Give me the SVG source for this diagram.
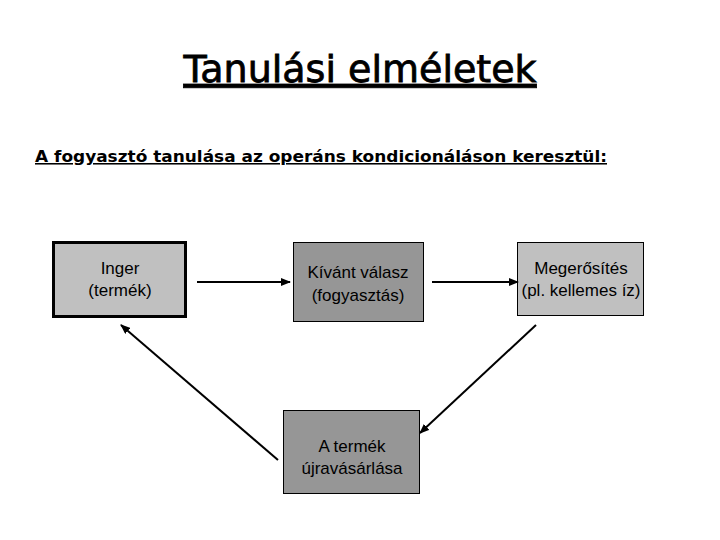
<svg xmlns="http://www.w3.org/2000/svg" width="720" height="540" viewBox="0 0 720 540">
<style>
.t{font-family:"Liberation Sans",Arial,sans-serif;font-size:17px;fill:#000;text-anchor:middle}
.c{stroke:#000;stroke-width:2;fill:none;marker-end:url(#a)}
</style>
<defs><marker id="a" markerWidth="10" markerHeight="8" refX="9" refY="4" orient="auto" markerUnits="userSpaceOnUse"><path d="M0,0L10,4L0,8z" fill="#000"/></marker></defs>
<rect width="720" height="540" fill="#fff"/>
<text x="360" y="82" font-family="'DejaVu Sans',sans-serif" font-size="38" text-anchor="middle" stroke="#000" stroke-width="0.8" text-decoration="underline">Tanulási elméletek</text>
<text x="35" y="162" font-family="'DejaVu Sans',sans-serif" font-size="15.5" font-weight="bold" text-decoration="underline" textLength="572" lengthAdjust="spacingAndGlyphs">A fogyasztó tanulása az operáns kondicionáláson keresztül:</text>
<g id="inger"><rect x="53.5" y="242.5" width="132" height="74" fill="#c0c0c0" stroke="#000" stroke-width="3"/><text class="t" x="120" y="274">Inger</text><text class="t" x="120" y="296">(termék)</text></g>
<g id="valasz"><rect x="293.5" y="242.5" width="130" height="79" fill="#969696" stroke="#000"/><text class="t" x="358" y="278">Kívánt válasz</text><text class="t" x="358" y="301">(fogyasztás)</text></g>
<g id="megerosites"><rect x="517.5" y="242.5" width="126" height="73" fill="#c0c0c0" stroke="#000"/><text class="t" x="581" y="274">Megerősítés</text><text class="t" x="581" y="296">(pl. kellemes íz)</text></g>
<g id="ujra"><rect x="283.5" y="410.5" width="136" height="83" fill="#969696" stroke="#000"/><text class="t" x="352" y="452">A termék</text><text class="t" x="352" y="474">újravásárlása</text></g>
<g id="connectors">
<line class="c" x1="197" y1="282" x2="290" y2="282"/>
<line class="c" x1="432" y1="282" x2="518" y2="282"/>
<line class="c" x1="536" y1="325" x2="420" y2="433"/>
<line class="c" x1="278" y1="460" x2="121" y2="325"/>
</g>
</svg>
